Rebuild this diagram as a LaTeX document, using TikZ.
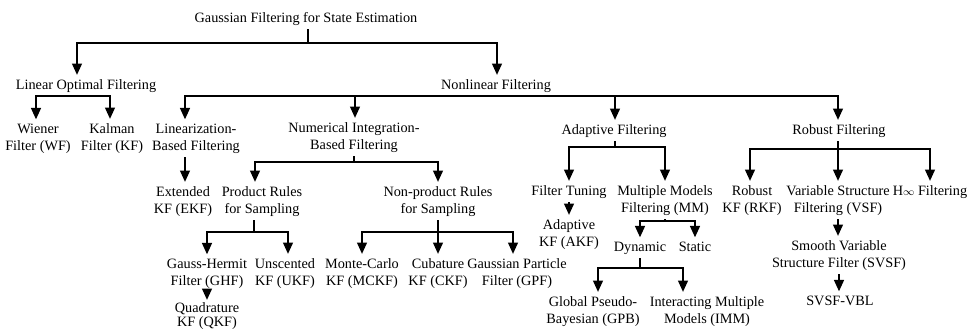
\documentclass[tikz,border=0pt]{standalone}
\usepackage{fontspec}
\setmainfont{Liberation Serif}
\usetikzlibrary{arrows.meta}
\begin{document}
\begin{tikzpicture}[x=0.75pt,y=-0.75pt,
  lbl/.style={font=\fontsize{10.7}{12.75}\selectfont, align=center, anchor=base,
              inner xsep=0pt, inner ysep=3pt},
  link/.style={line width=1pt},
  arr/.style={link, -{Triangle[width=7.5pt,length=8.5pt]}}]
\useasboundingbox (0,0) rectangle (967,329);

% ---- labels (positioned at the baseline of their last line) ----
\node[lbl] (root)   at (306,22)  {Gaussian Filtering for State Estimation};
\node[lbl] (lin)    at (86,89)   {Linear Optimal Filtering};
\node[lbl] (nonlin) at (496,89)  {Nonlinear Filtering};
\node[lbl] (wf)     at (38,150)  {Wiener\\Filter (WF)};
\node[lbl] (kf)     at (112,150) {Kalman\\Filter (KF)};
\node[lbl] (linz)   at (196,150) {Linearization-\\Based Filtering};
\node[lbl] (num)    at (354,149) {Numerical Integration-\\Based Filtering};
\node[lbl] (adapt)  at (614,134) {Adaptive Filtering};
\node[lbl] (robust) at (839,134) {Robust Filtering};
\node[lbl] (ekf)    at (183,213) {Extended\\KF (EKF)};
\node[lbl] (prod)   at (262,213) {Product Rules\\for Sampling};
\node[lbl] (nonprod) at (438,213) {Non-product Rules\\for Sampling};
\node[lbl] (tune)   at (569,195) {Filter Tuning};
\node[lbl] (mm)     at (665,212) {Multiple Models\\Filtering (MM)};
\node[lbl] (rkf)    at (752,212) {Robust\\KF (RKF)};
\node[lbl] (vsf)    at (838,212) {Variable Structure\\Filtering (VSF)};
\node[lbl] (hinf)   at (930,195) {H\raisebox{-0.15ex}{\footnotesize$\infty$} Filtering};
\node[lbl] (akf)    at (569,246) {Adaptive\\KF (AKF)};
\node[lbl] (dyn)    at (640,251) {Dynamic};
\node[lbl] (stat)   at (695,251) {Static};
\node[lbl] (svsf)   at (839,267) {Smooth Variable\\Structure Filter (SVSF)};
\node[lbl] (ghf)    at (207,285) {Gauss-Hermit\\Filter (GHF)};
\node[lbl] (ukf)    at (285,285) {Unscented\\KF (UKF)};
\node[lbl] (mckf)   at (362,285) {Monte-Carlo\\KF (MCKF)};
\node[lbl] (ckf)    at (438,285) {Cubature\\KF (CKF)};
\node[lbl] (gpf)    at (517,285) {Gaussian Particle\\Filter (GPF)};
\node[lbl, font=\fontsize{10.7}{10.5}\selectfont] (qkf) at (207,326) {Quadrature\\KF (QKF)};
\node[lbl] (gpb)    at (593,323) {Global Pseudo-\\Bayesian (GPB)};
\node[lbl] (imm)    at (707,323) {Interacting Multiple\\Models (IMM)};
\node[lbl] (vbl)    at (840,305) {SVSF-VBL};

% ---- branching junctions ----
\coordinate (j0) at (308,43);
\coordinate (j1) at (77,96);
\coordinate (j2) at (497,96);
\coordinate (j3) at (354,162);
\coordinate (j4) at (254,232);
\coordinate (j5) at (438,232);
\coordinate (j6) at (615,147);
\coordinate (j7) at (665,221);
\coordinate (j8) at (640,268);
\coordinate (j9) at (838,149);

% root
\draw[link] (root.south -| j0) -- (j0);
\draw[arr] (j0) -| (lin.north -| 77,0);
\draw[arr] (j0) -| (nonlin.north -| 497,0);
% linear optimal filtering
\draw[link] (lin.south -| j1) -- (j1);
\draw[arr] (j1) -| (wf.north -| 36,0);
\draw[arr] (j1) -| (kf.north -| 110,0);
% nonlinear filtering
\draw[link] (nonlin.south -| j2) -- (j2);
\draw[arr] (j2) -| (linz.north -| 185,0);
\draw[arr] (j2) -| (num.north -| 355,0);
\draw[arr] (j2) -| (adapt.north -| 615,0);
\draw[arr] (j2) -| (robust.north -| 838,0);
% linearization
\draw[arr] (linz.south -| 185,0) -- (ekf.north -| 185,0);
% numerical integration
\draw[link] (num.south -| j3) -- (j3);
\draw[arr] (j3) -| (prod.north -| 255,0);
\draw[arr] (j3) -| (nonprod.north -| 438,0);
% product rules
\draw[link] (prod.south -| j4) -- (j4);
\draw[arr] (j4) -| (ghf.north -| 207,0);
\draw[arr] (j4) -| (ukf.north -| 288,0);
\draw[arr] ([yshift=1.5pt]ghf.south -| 207,0) -- ([yshift=-1.5pt]qkf.north -| 207,0);
% non-product rules
\draw[link] (nonprod.south -| j5) -- (j5);
\draw[arr] (j5) -| (mckf.north -| 362,0);
\draw[arr] (j5) -- (ckf.north -| 438,0);
\draw[arr] (j5) -| (gpf.north -| 513,0);
% adaptive filtering
\draw[link] (adapt.south -| j6) -- (j6);
\draw[arr] (j6) -| (tune.north -| 569,0);
\draw[arr] (j6) -| (mm.north -| 665,0);
\draw[arr] (tune.south -| 569,0) -- (akf.north -| 569,0);
% multiple models
\draw[link] (mm.south -| j7) -- (j7);
\draw[arr] (j7) -| (dyn.north -| 640,0);
\draw[arr] (j7) -| (stat.north -| 695,0);
% dynamic
\draw[link] (dyn.south -| j8) -- (j8);
\draw[arr] (j8) -| (gpb.north -| 598,0);
\draw[arr] (j8) -| (imm.north -| 683,0);
% robust filtering
\draw[link] (robust.south -| j9) -- (j9);
\draw[arr] (j9) -| (rkf.north -| 750,0);
\draw[arr] (j9) -- (vsf.north -| 838,0);
\draw[arr] (j9) -| (hinf.north -| 930,0);
\draw[arr] (vsf.south -| 838,0) -- (svsf.north -| 838,0);
\draw[arr] (svsf.south -| 839,0) -- (vbl.north -| 839,0);
\end{tikzpicture}
\end{document}
